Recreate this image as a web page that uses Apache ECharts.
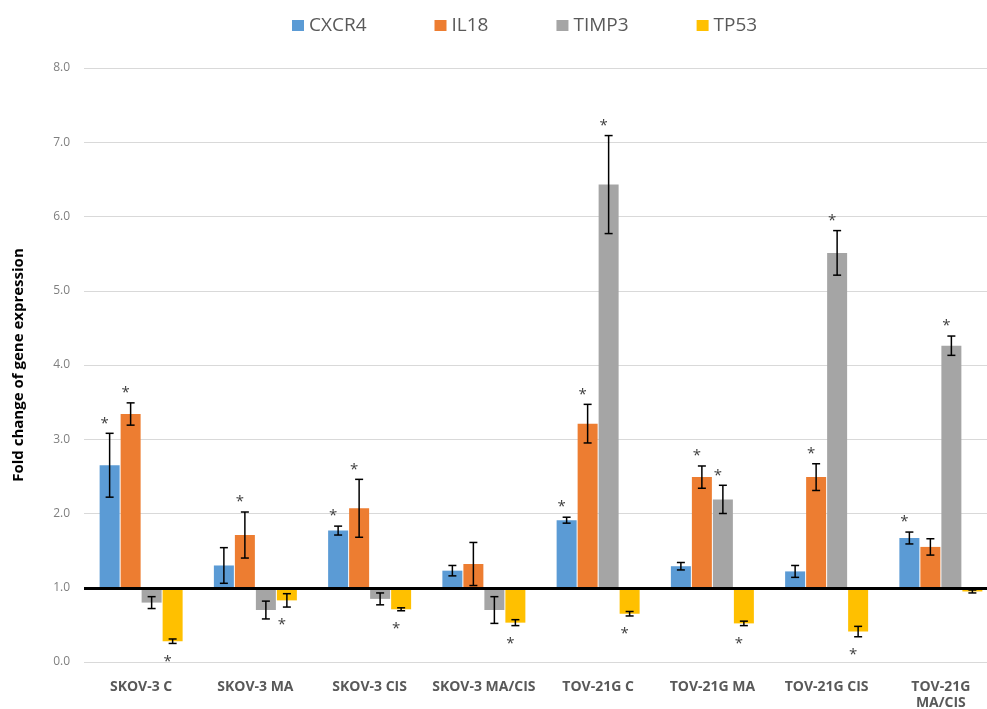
<!DOCTYPE html>
<html>
<head>
<meta charset="utf-8">
<script src="https://cdn.jsdelivr.net/npm/echarts@6/dist/echarts.min.js"></script>
<style>
  html, body { margin: 0; padding: 0; background: #fff; }
  #chart { width: 987px; height: 709px; }
</style>
</head>
<body>
<div id="chart"></div>
<script>
const categories = ['SKOV-3 C', 'SKOV-3 MA', 'SKOV-3 CIS', 'SKOV-3 MA/CIS', 'TOV-21G C', 'TOV-21G MA', 'TOV-21G CIS', 'TOV-21G MA/CIS']
const genes = ['CXCR4', 'IL18', 'TIMP3', 'TP53']
const colors = ['#5B9BD5', '#ED7D31', '#A5A5A5', '#FFC000']

const cxcr4 = [2.65, 1.30, 1.77, 1.23, 1.91, 1.29, 1.22, 1.67]
const il18 = [3.34, 1.71, 2.07, 1.32, 3.21, 2.49, 2.49, 1.55]
const timp3 = [0.80, 0.70, 0.85, 0.70, 6.43, 2.19, 5.51, 4.26]
const tp53 = [0.28, 0.83, 0.71, 0.53, 0.65, 0.52, 0.41, 0.95]

const cxcr4Err = [0.43, 0.24, 0.06, 0.07, 0.04, 0.05, 0.08, 0.08]
const il18Err = [0.15, 0.31, 0.39, 0.29, 0.26, 0.15, 0.18, 0.11]
const timp3Err = [0.08, 0.12, 0.08, 0.18, 0.66, 0.19, 0.30, 0.13]
const tp53Err = [0.03, 0.09, 0.02, 0.04, 0.03, 0.03, 0.07, 0.02]

// 1 = significant (asterisk)
const cxcr4Star = [1, 0, 1, 0, 1, 0, 0, 1]
const il18Star = [1, 1, 1, 0, 1, 1, 1, 0]
const timp3Star = [0, 0, 0, 0, 1, 1, 1, 1]
const tp53Star = [1, 1, 1, 1, 1, 1, 1, 0]

const yTicks = [0, 1, 2, 3, 4, 5, 6, 7, 8]
const baseline = 1

const values = [cxcr4, il18, timp3, tp53]
const errors = [cxcr4Err, il18Err, timp3Err, tp53Err]
const stars = [cxcr4Star, il18Star, timp3Star, tp53Star]

const barWidth = 20
const barStep = 21

let chart = echarts.init(document.getElementById('chart'))

const series = []
genes.forEach((g, gi) => {
  // invisible base so bars start from the 1.0 line
  series.push({
    name: g + '_base',
    type: 'bar',
    stack: 's' + gi,
    barWidth: barWidth,
    barGap: '5%',
    silent: true,
    itemStyle: { color: 'transparent' },
    data: values[gi].map(v => Math.min(v, baseline))
  })
  series.push({
    name: g,
    type: 'bar',
    stack: 's' + gi,
    barWidth: barWidth,
    barGap: '5%',
    itemStyle: { color: colors[gi] },
    data: values[gi].map(v => Math.abs(v - baseline))
  })
})

genes.forEach((g, gi) => {
  series.push({
    name: g + '_err',
    type: 'custom',
    z: 5,
    data: values[gi].map((v, i) => [i, v, errors[gi][i], stars[gi][i]]),
    renderItem: (params, api) => {
      const idx = api.value(0)
      const v = api.value(1)
      const e = api.value(2)
      const s = api.value(3)
      const c = api.coord([idx, v])
      const x = c[0] + (gi - 1.5) * barStep
      const top = api.coord([idx, v + e])[1]
      const bot = api.coord([idx, v - e])[1]
      const st = { stroke: '#000', lineWidth: 1.5 }
      const children = [
        { type: 'line', shape: { x1: x, y1: top, x2: x, y2: bot }, style: st },
        { type: 'line', shape: { x1: x - 4, y1: top, x2: x + 4, y2: top }, style: st },
        { type: 'line', shape: { x1: x - 4, y1: bot, x2: x + 4, y2: bot }, style: st }
      ]
      if (s) {
        const up = v >= baseline
        children.push({
          type: 'text',
          style: {
            text: '*',
            x: x - 5,
            y: up ? top - 10 : bot + 18,
            align: 'center',
            verticalAlign: 'middle',
            fill: '#404040',
            font: '15px "Open Sans"'
          }
        })
      }
      return { type: 'group', children: children }
    }
  })
})

series.push({
  name: 'baseline',
  type: 'line',
  data: [],
  z: 6,
  markLine: {
    silent: true,
    symbol: 'none',
    label: { show: false },
    lineStyle: { color: '#000', width: 3, type: 'solid' },
    data: [{ yAxis: baseline }]
  }
})

chart.setOption({
  animation: false,
  backgroundColor: '#fff',
  textStyle: { fontFamily: 'Open Sans' },
  legend: {
    data: genes,
    top: 11,
    left: 287,
    icon: 'rect',
    itemWidth: 12,
    itemHeight: 11,
    itemGap: 68,
    textStyle: { color: '#595959', fontSize: 19, fontFamily: 'Open Sans' }
  },
  grid: {
    left: 84,
    right: -11,
    top: 68,
    bottom: 47,
    outerBoundsMode: 'none'
  },
  xAxis: {
    type: 'category',
    data: categories,
    axisLine: { show: false },
    axisTick: { show: false },
    axisLabel: {
      interval: 0,
      margin: 17,
      color: '#595959',
      fontSize: 14,
      fontWeight: 'bold',
      lineHeight: 16,
      formatter: v => v.length > 13 ? v.replace(' ', '\n') : v
    }
  },
  yAxis: {
    type: 'value',
    min: yTicks[0],
    max: yTicks[yTicks.length - 1],
    interval: 1,
    name: 'Fold change of gene expression',
    nameLocation: 'middle',
    nameGap: 58,
    nameTextStyle: { color: '#000', fontSize: 15, fontWeight: 'bold', fontFamily: 'Open Sans' },
    axisLine: { show: false },
    axisTick: { show: false },
    axisLabel: {
      color: '#7f7f7f',
      fontSize: 12,
      margin: 14,
      formatter: v => v.toFixed(1)
    },
    splitLine: { lineStyle: { color: '#d9d9d9', width: 1 } }
  },
  series: series
})
</script>
</body>
</html>
